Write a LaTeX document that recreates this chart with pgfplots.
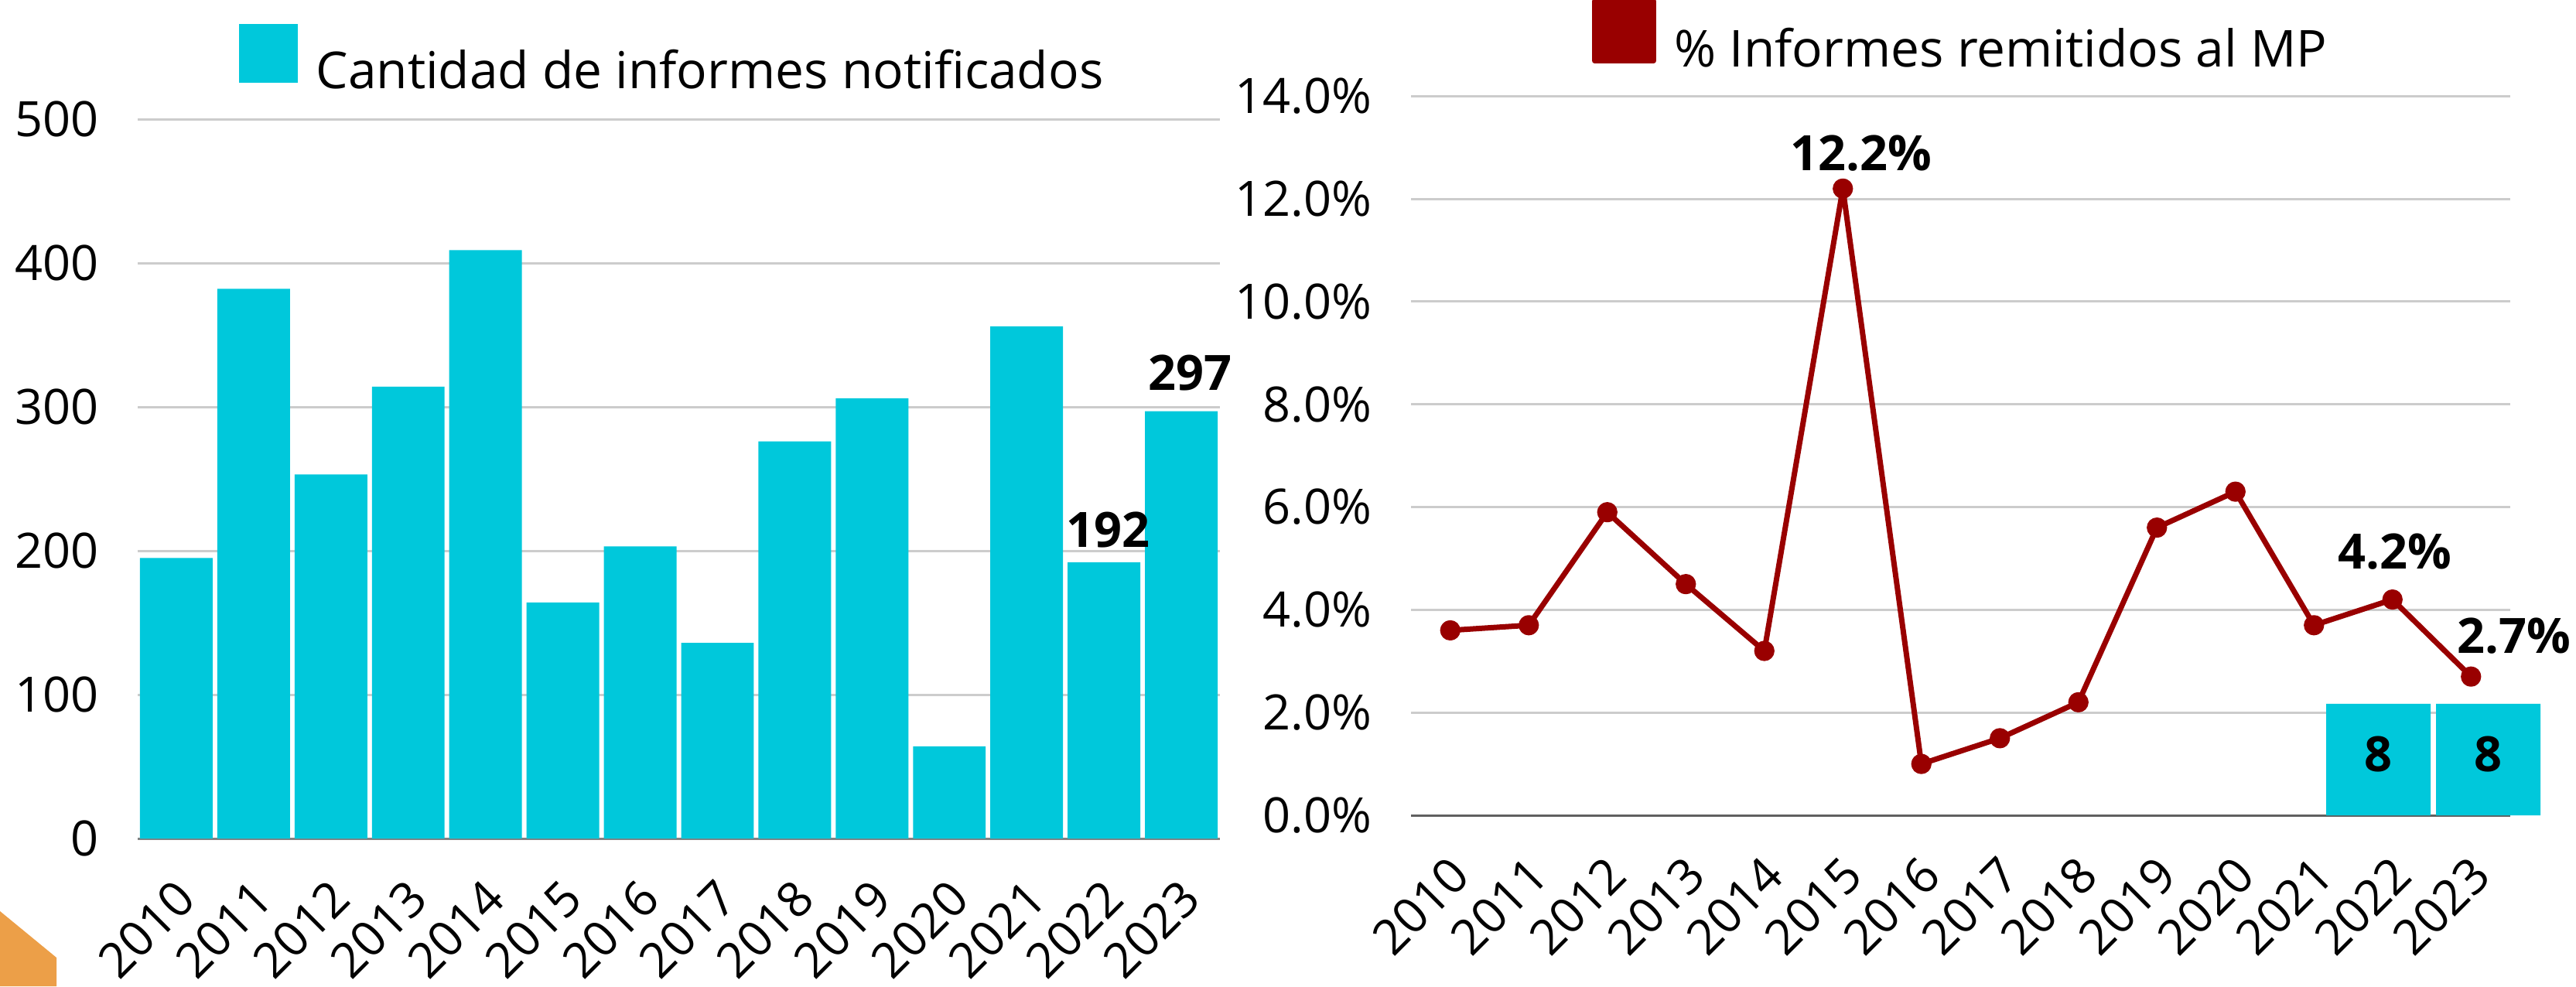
\documentclass[border=0pt]{standalone}
\usepackage{pgfplots}
\pgfplotsset{compat=1.18}
\usepackage{fontspec}
\setmainfont{Open Sans}
\definecolor{barcyan}{RGB}{0,200,219}
\definecolor{darkred}{RGB}{153,0,0}
\definecolor{orangec}{RGB}{236,159,72}
\definecolor{gridc}{RGB}{204,204,204}
\definecolor{axisc}{RGB}{130,130,130}
\newcommand\tickfont{\fontsize{15.75pt}{18pt}\selectfont}
\newcommand\legfont{\fontsize{16.45pt}{19pt}\selectfont}
\newcommand\labfont{\fontsize{15.75pt}{18pt}\selectfont\bfseries}
\pgfplotsset{
  common/.style={
    scale only axis,
    anchor=south west,
    xmin=-0.5, xmax=13.5,
    xtick={0,...,13},
    xticklabels={2010,2011,2012,2013,2014,2015,2016,2017,2018,2019,2020,2021,2022,2023},
    ymajorgrids,
    grid style={line width=0.75pt, color=gridc},
    axis x line*=bottom, axis y line*=left,
    y axis line style={draw=none},
    x axis line style={line width=0.75pt, color=axisc},
    tick style={draw=none},
    tick label style={font=\tickfont},
    yticklabel style={inner sep=0pt, anchor=east, xshift=-12.5pt},
    xticklabel style={inner sep=0pt, xshift=3.25pt, yshift=-16.5pt, rotate=45, anchor=east},
    clip=false,
    legend style={draw=none, fill=none, inner sep=0pt, outer sep=0pt, font=\legfont,
      nodes={inner sep=0pt}, column sep=5.9pt, anchor=west},
  }
}
\begin{document}
\begin{tikzpicture}
\useasboundingbox (0,0) rectangle (832.5pt,318.75pt);
\fill[orangec] (0pt,24.25pt) -- (18.25pt,9.25pt) -- (18.25pt,0pt) -- (0pt,0pt) -- cycle;

\begin{axis}[common,
  at={(44.5pt,47.75pt)},
  width=349.75pt, height=232.5pt,
  ymin=0, ymax=500,
  ytick={0,100,200,300,400,500},
  yticklabels={0,100,200,300,400,500},
  legend style={at={(0.0936,1.0839)}},
]
\addplot[ybar, bar width=0.94, bar shift=0pt, fill=barcyan, draw=none,
  legend image code/.code={\fill[barcyan] (0pt,-3.6pt) rectangle (19pt,15.4pt);}]
coordinates {(0,195) (1,382) (2,253) (3,314) (4,409) (5,164) (6,203) (7,136) (8,276) (9,306) (10,64) (11,356) (12,192) (13,297)};
\addlegendentry{Cantidad de informes notificados}
\addplot[draw=none, mark=none, forget plot, nodes near coords={192},
  every node near coord/.append style={anchor=center, xshift=1.25pt, yshift=10.5pt, font=\labfont, inner sep=0pt}]
coordinates {(12,192)};
\addplot[draw=none, mark=none, forget plot, nodes near coords={297},
  every node near coord/.append style={anchor=center, xshift=2.75pt, yshift=12.4pt, font=\labfont, inner sep=0pt}]
coordinates {(13,297)};
\end{axis}

\begin{axis}[common,
  at={(456pt,55.25pt)},
  width=355.25pt, height=232.43pt,
  ymin=0, ymax=14,
  ytick={0,2,4,6,8,10,12,14},
  yticklabels={0.0\%,2.0\%,4.0\%,6.0\%,8.0\%,10.0\%,12.0\%,14.0\%},
  x axis line style={line width=0.75pt, color=gray!75!black},
  legend style={at={(0.1647,1.0848)}},
]
\addplot[color=darkred, line width=1.75pt, line join=round, mark=*, mark size=2.4pt,
  mark options={solid, fill=darkred, draw=darkred},
  legend image code/.code={\fill[darkred] (0pt,-3.6pt) rectangle (19pt,15.6pt);}]
coordinates {(0,3.6) (1,3.7) (2,5.9) (3,4.5) (4,3.2) (5,12.2) (6,1.0) (7,1.5) (8,2.2) (9,5.6) (10,6.3) (11,3.7) (12,4.2) (13,2.7)};
\addlegendentry{\% Informes remitidos al MP}
\addplot[ybar, bar width=1.33, bar shift=0pt, fill=barcyan, draw=none, forget plot,
  nodes near coords={8},
  every node near coord/.append style={anchor=center, yshift=-16.25pt, font=\labfont, inner sep=0pt}]
coordinates {(11.82,2.17) (13.22,2.17)};
\addplot[draw=none, mark=none, forget plot, nodes near coords={12.2\%},
  every node near coord/.append style={anchor=center, xshift=6pt, yshift=11.5pt, font=\labfont, inner sep=0pt}]
coordinates {(5,12.2)};
\addplot[draw=none, mark=none, forget plot, nodes near coords={4.2\%},
  every node near coord/.append style={anchor=center, xshift=0.75pt, yshift=15.5pt, font=\labfont, inner sep=0pt}]
coordinates {(12,4.2)};
\addplot[draw=none, mark=none, forget plot, nodes near coords={2.7\%},
  every node near coord/.append style={anchor=center, xshift=14pt, yshift=13.2pt, font=\labfont, inner sep=0pt}]
coordinates {(13,2.7)};
\end{axis}
\end{tikzpicture}
\end{document}
